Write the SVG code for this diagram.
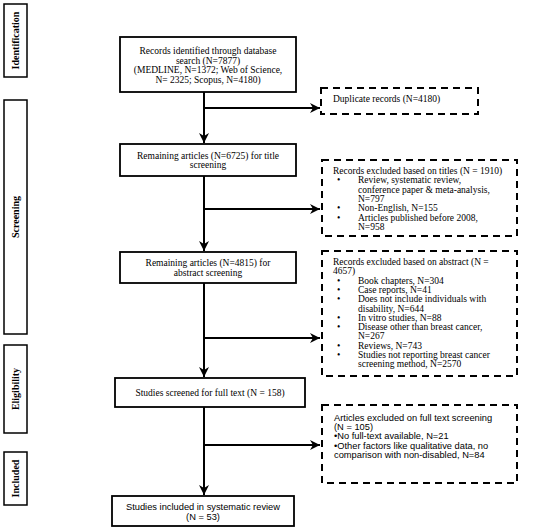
<svg xmlns="http://www.w3.org/2000/svg" width="550" height="530" viewBox="0 0 550 530">
<style>
.box{fill:#fff;stroke:#000;stroke-width:1.8}
.dash{fill:#fff;stroke:#000;stroke-width:2;stroke-dasharray:7,5}
.side{fill:#fff;stroke:#000;stroke-width:1.5}
.t{font-family:"Liberation Serif","Times New Roman",serif;font-size:9.5px;fill:#000}
.a{font-family:"Liberation Sans",Arial,sans-serif;font-size:9.3px;fill:#000}
.c{text-anchor:middle}
.lab{font-family:"Liberation Serif","Times New Roman",serif;font-size:10px;font-weight:bold;text-anchor:middle;fill:#000}
.ln{stroke:#000;stroke-width:2;fill:none}
</style>
<defs>
<marker id="ah" viewBox="0 0 10 10" refX="10" refY="5" markerWidth="5" markerHeight="5" orient="auto" markerUnits="strokeWidth">
<path d="M0,0 L10,5 L0,10 L3,5 z" fill="#000"/>
</marker>
</defs>
<g id="stages">
<g id="stage-identification"><rect class="side" x="4" y="4" width="23" height="73"/><text class="lab" transform="translate(19,40.5) rotate(-90)">Identification</text></g>
<g id="stage-screening"><rect class="side" x="4" y="100" width="23" height="234"/><text class="lab" transform="translate(19,217) rotate(-90)">Screening</text></g>
<g id="stage-eligibility"><rect class="side" x="4" y="345" width="23" height="88"/><text class="lab" transform="translate(19,389) rotate(-90)">Eligibility</text></g>
<g id="stage-included"><rect class="side" x="4" y="452" width="23" height="53"/><text class="lab" transform="translate(19,478.5) rotate(-90)">Included</text></g>
</g>
<g id="connectors">
<line class="ln" x1="204" y1="92" x2="204" y2="143" marker-end="url(#ah)"/>
<line class="ln" x1="204" y1="176" x2="204" y2="251" marker-end="url(#ah)"/>
<line class="ln" x1="204" y1="283" x2="204" y2="377" marker-end="url(#ah)"/>
<line class="ln" x1="204" y1="407" x2="204" y2="495" marker-end="url(#ah)"/>
<line class="ln" x1="204" y1="108" x2="320" y2="108" marker-end="url(#ah)"/>
<line class="ln" x1="204" y1="209" x2="320" y2="209" marker-end="url(#ah)"/>
<line class="ln" x1="204" y1="338" x2="320" y2="338" marker-end="url(#ah)"/>
<line class="ln" x1="204" y1="445" x2="320" y2="445" marker-end="url(#ah)"/>
</g>
<g id="n1"><rect class="box" x="120" y="37" width="176" height="55"/>
<text class="t c" x="208" y="54">Records identified through database</text>
<text class="t c" x="208" y="63.7">search (N=7877)</text>
<text class="t c" x="208" y="73.4">(MEDLINE, N=1372; Web of Science,</text>
<text class="t c" x="208" y="83.1">N= 2325; Scopus, N=4180)</text></g>
<g id="n2"><rect class="dash" x="321" y="88" width="157" height="26"/>
<text class="t" x="333" y="101.5">Duplicate records (N=4180)</text></g>
<g id="n3"><rect class="box" x="120" y="144" width="176" height="32"/>
<text class="t c" x="208" y="158.5">Remaining articles (N=6725) for title</text>
<text class="t c" x="208" y="168">screening</text></g>
<g id="n4"><rect class="dash" x="322" y="160" width="195" height="76"/>
<text class="t" x="333" y="174">Records excluded based on titles (N = 1910)</text>
<text class="t" x="337" y="183.3">•</text><text class="t" x="358" y="183.3">Review, systematic review,</text>
<text class="t" x="358" y="192.6">conference paper &amp; meta-analysis,</text>
<text class="t" x="358" y="201.9">N=797</text>
<text class="t" x="337" y="211.2">•</text><text class="t" x="358" y="211.2">Non-English, N=155</text>
<text class="t" x="337" y="220.5">•</text><text class="t" x="358" y="220.5">Articles published before 2008,</text>
<text class="t" x="358" y="229.8">N=958</text></g>
<g id="n5"><rect class="box" x="120" y="252" width="176" height="31"/>
<text class="t c" x="208" y="266">Remaining articles (N=4815) for</text>
<text class="t c" x="208" y="275.5">abstract screening</text></g>
<g id="n6"><rect class="dash" x="322" y="251" width="195" height="125"/>
<text class="t" x="333" y="265">Records excluded based on abstract (N =</text>
<text class="t" x="333" y="274.3">4657)</text>
<text class="t" x="337" y="283.6">•</text><text class="t" x="358" y="283.6">Book chapters, N=304</text>
<text class="t" x="337" y="292.9">•</text><text class="t" x="358" y="292.9">Case reports, N=41</text>
<text class="t" x="337" y="302.2">•</text><text class="t" x="358" y="302.2">Does not include individuals with</text>
<text class="t" x="358" y="311.5">disability, N=644</text>
<text class="t" x="337" y="320.8">•</text><text class="t" x="358" y="320.8">In vitro studies, N=88</text>
<text class="t" x="337" y="330.1">•</text><text class="t" x="358" y="330.1">Disease other than breast cancer,</text>
<text class="t" x="358" y="339.4">N=267</text>
<text class="t" x="337" y="348.7">•</text><text class="t" x="358" y="348.7">Reviews, N=743</text>
<text class="t" x="337" y="358">•</text><text class="t" x="358" y="358">Studies not reporting breast cancer</text>
<text class="t" x="358" y="367.3">screening method, N=2570</text></g>
<g id="n7"><rect class="box" x="115" y="378" width="190" height="29"/>
<text class="t c" x="210" y="395.5">Studies screened for full text (N = 158)</text></g>
<g id="n8"><rect class="dash" x="322" y="405" width="195" height="78"/>
<text class="a" x="334" y="421">Articles excluded on full text screening</text>
<text class="a" x="334" y="430">(N = 105)</text>
<text class="a" x="334" y="439">•No full-text available, N=21</text>
<text class="a" x="334" y="448.5">•Other factors like qualitative data, no</text>
<text class="a" x="334" y="457.5">comparison with non-disabled, N=84</text></g>
<g id="n9"><rect class="box" x="112" y="496" width="182" height="30"/>
<text class="a c" x="203" y="509.5">Studies included in systematic review</text>
<text class="a c" x="203" y="519.5">(N = 53)</text></g>
</svg>
